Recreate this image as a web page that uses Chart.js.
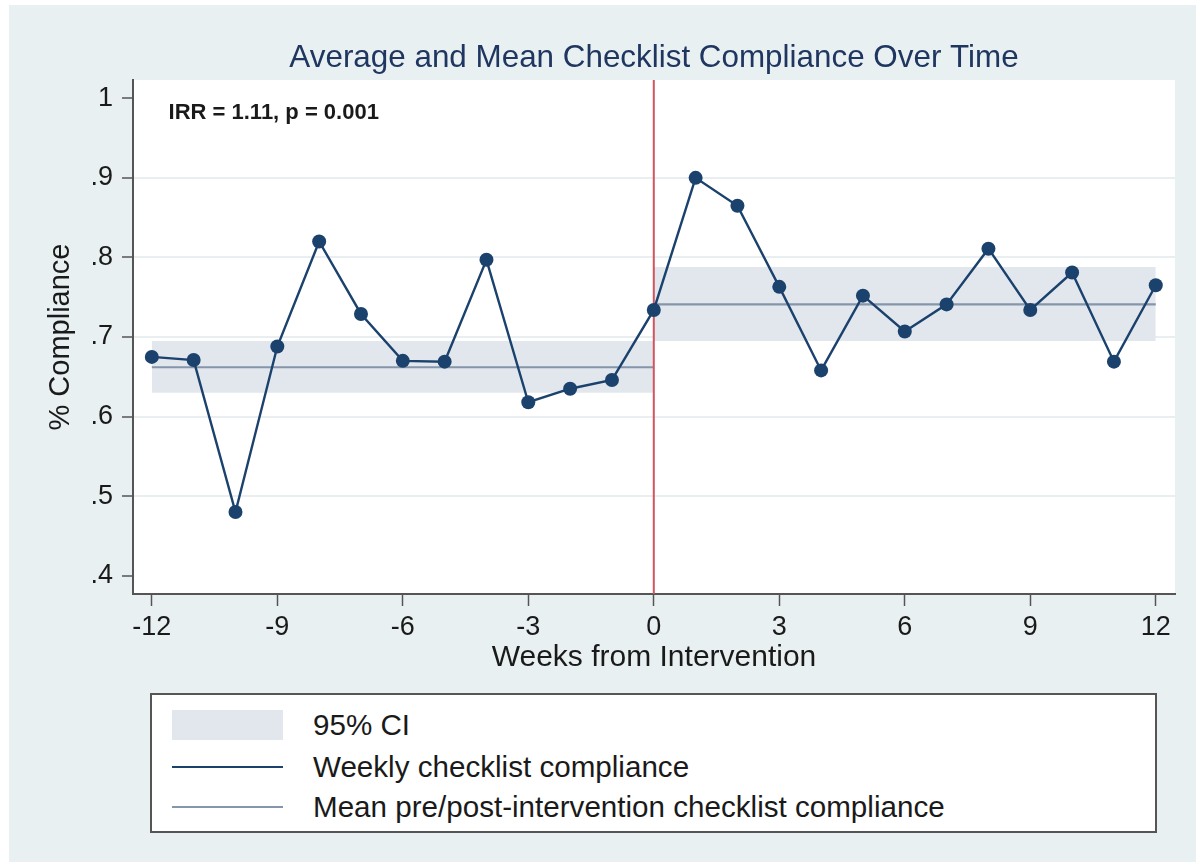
<!DOCTYPE html>
<html>
<head>
<meta charset="utf-8">
<script src="https://cdn.jsdelivr.net/npm/chart.js@4.4.1/dist/chart.umd.min.js"></script>
<style>
  html, body { margin: 0; padding: 0; background: #fff; }
  #frame { position: absolute; left: 9px; top: 5px; width: 1187px; height: 857px; background: #e9f0f2; }
  #chart { position: absolute; left: 0; top: 0; }
  #legend { position: absolute; left: 150px; top: 693px; width: 1003px; height: 136px;
            background: #fff; border: 2px solid #555; font-family: "Liberation Sans", Arial, sans-serif;
            font-size: 29.6px; color: #1a1a1a; }
  .item { position: absolute; left: 20px; height: 34px; width: 960px; }
  .sw { position: absolute; left: 0; width: 111px; }
  .lbl { position: absolute; left: 141px; top: 0; line-height: 34px; white-space: nowrap; }
</style>
</head>
<body>
<div id="frame"></div>
<canvas id="chart" width="1196" height="868"></canvas>
<div id="legend"></div>
<script>
// weekly compliance
const weeks = [-12, -11, -10, -9, -8, -7, -6, -5, -4, -3, -2, -1, 0, 1, 2, 3, 4, 5, 6, 7, 8, 9, 10, 11, 12];
const compliance = [0.675, 0.671, 0.480, 0.688, 0.820, 0.729, 0.670, 0.669, 0.797, 0.618, 0.635, 0.646,
                    0.734, 0.900, 0.865, 0.763, 0.658, 0.752, 0.707, 0.741, 0.811, 0.734, 0.781, 0.669, 0.765];

// pre / post periods
const periodStart = [-12, 0];
const periodEnd = [0, 12];
const periodMean = [0.662, 0.741];
const ciLow = [0.630, 0.695];
const ciHigh = [0.695, 0.788];

const interventionWeek = 0;

const xTicks = [-12, -9, -6, -3, 0, 3, 6, 9, 12];
const yTicks = [0.4, 0.5, 0.6, 0.7, 0.8, 0.9, 1.0];
const yTickLabels = [".4", ".5", ".6", ".7", ".8", ".9", "1"];

const titleText = "Average and Mean Checklist Compliance Over Time";
const annotText = "IRR = 1.11, p = 0.001";
const annotPos = { x: -11.6, y: 0.982 };
const legendLabels = ["95% CI", "Weekly checklist compliance", "Mean pre/post-intervention checklist compliance"];

const NAVY = "#1b416d";
const MEANCOL = "#8595aa";
const CICOL = "#e1e7ed";
const FONT = "'Liberation Sans', Arial, sans-serif";

const datasets = [];
// CI bands: upper filled down to lower
for (let i = 0; i < periodStart.length; i++) {
  const upperIdx = datasets.length;
  datasets.push({
    label: "ci-high-" + i,
    data: [{ x: periodStart[i], y: ciHigh[i] }, { x: periodEnd[i], y: ciHigh[i] }],
    borderWidth: 0, pointRadius: 0, backgroundColor: CICOL,
    fill: upperIdx + 1, order: 3
  });
  datasets.push({
    label: "ci-low-" + i,
    data: [{ x: periodStart[i], y: ciLow[i] }, { x: periodEnd[i], y: ciLow[i] }],
    borderWidth: 0, pointRadius: 0, fill: false, order: 3
  });
}
for (let i = 0; i < periodStart.length; i++) {
  datasets.push({
    label: "mean-" + i,
    data: [{ x: periodStart[i], y: periodMean[i] }, { x: periodEnd[i], y: periodMean[i] }],
    borderColor: MEANCOL, borderWidth: 2.2, pointRadius: 0, fill: false, order: 2
  });
}
const weeklyIndex = datasets.length;
datasets.push({
  label: "weekly",
  data: weeks.map((w, i) => ({ x: w, y: compliance[i] })),
  borderColor: NAVY, borderWidth: 2.4,
  pointRadius: 7, pointBackgroundColor: NAVY, pointBorderWidth: 0,
  fill: false, tension: 0, order: 0
});

const stataLook = {
  id: "stataLook",
  beforeDraw(chart) {
    const { ctx, chartArea: a } = chart;
    ctx.save();
    ctx.fillStyle = "#fff";
    ctx.fillRect(a.left, a.top, a.right - a.left, a.bottom - a.top);
    ctx.restore();
  },
  beforeDatasetDraw(chart, args) {
    if (args.index !== weeklyIndex) return;
    const { ctx, chartArea: a } = chart;
    const x = chart.scales.x.getPixelForValue(interventionWeek);
    ctx.save();
    ctx.strokeStyle = "#d2545f";
    ctx.lineWidth = 2;
    ctx.beginPath();
    ctx.moveTo(x, a.top);
    ctx.lineTo(x, a.bottom);
    ctx.stroke();
    ctx.restore();
  },
  afterDraw(chart) {
    const { ctx, chartArea: a } = chart;
    ctx.save();
    ctx.fillStyle = "#1f3760";
    ctx.font = "31.4px " + FONT;
    ctx.textAlign = "center";
    ctx.textBaseline = "middle";
    ctx.fillText(titleText, (a.left + a.right) / 2, 58);

    ctx.fillStyle = "#1a1a1a";
    ctx.font = "bold 22px " + FONT;
    ctx.textAlign = "left";
    ctx.fillText(annotText, chart.scales.x.getPixelForValue(annotPos.x), chart.scales.y.getPixelForValue(annotPos.y));
    ctx.restore();
  }
};

new Chart(document.getElementById("chart"), {
  type: "line",
  data: { datasets },
  options: {
    responsive: false,
    animation: false,
    layout: { padding: { top: 80, right: 21, bottom: 188, left: 0 } },
    plugins: { legend: { display: false }, tooltip: { enabled: false } },
    scales: {
      x: {
        type: "linear", min: -12.45, max: 12.46,
        afterBuildTicks: (s) => { s.ticks = xTicks.map(v => ({ value: v })); },
        afterFit: (s) => { s.height = 86; },
        ticks: { color: "#1a1a1a", font: { family: FONT, size: 27 }, padding: 5, callback: (v) => String(v) },
        grid: { drawOnChartArea: false, drawTicks: true, tickLength: 12, tickColor: "#555", tickWidth: 1.5 },
        border: { display: true, color: "#555", width: 2 },
        title: { display: true, text: "Weeks from Intervention", color: "#1a1a1a",
                 font: { family: FONT, size: 30 }, padding: { top: 0, bottom: 4 } }
      },
      y: {
        type: "linear", min: 0.377, max: 1.023,
        afterBuildTicks: (s) => { s.ticks = yTicks.map(v => ({ value: v })); },
        afterFit: (s) => { s.width = 133; },
        ticks: { color: "#1a1a1a", font: { family: FONT, size: 27 }, padding: 9,
                 callback: (v, i) => yTickLabels[i] },
        grid: {
          color: (c) => (c.tick && (c.tick.value < 0.45 || c.tick.value > 0.95)) ? "rgba(0,0,0,0)" : "#e9eef1",
          lineWidth: 2, drawTicks: true, tickLength: 11, tickColor: "#555", tickWidth: 1.5
        },
        border: { display: true, color: "#555", width: 2 },
        title: { display: true, text: "% Compliance", color: "#1a1a1a",
                 font: { family: FONT, size: 29 }, padding: { top: 44, bottom: 0 } }
      }
    }
  },
  plugins: [stataLook]
});

// legend box
const legendEl = document.getElementById("legend");
const legendRows = [
  { top: 13, kind: "fill", color: CICOL },
  { top: 55, kind: "line", color: NAVY },
  { top: 95, kind: "line", color: MEANCOL }
];
legendRows.forEach((r, i) => {
  const item = document.createElement("div");
  item.className = "item";
  item.style.top = r.top + "px";
  const sw = document.createElement("span");
  sw.className = "sw";
  if (r.kind === "fill") {
    sw.style.top = "2px"; sw.style.height = "30px"; sw.style.background = r.color;
  } else {
    sw.style.top = "16px"; sw.style.height = "2px"; sw.style.background = r.color;
  }
  const lbl = document.createElement("span");
  lbl.className = "lbl";
  lbl.textContent = legendLabels[i];
  item.appendChild(sw);
  item.appendChild(lbl);
  legendEl.appendChild(item);
});
</script>
</body>
</html>
